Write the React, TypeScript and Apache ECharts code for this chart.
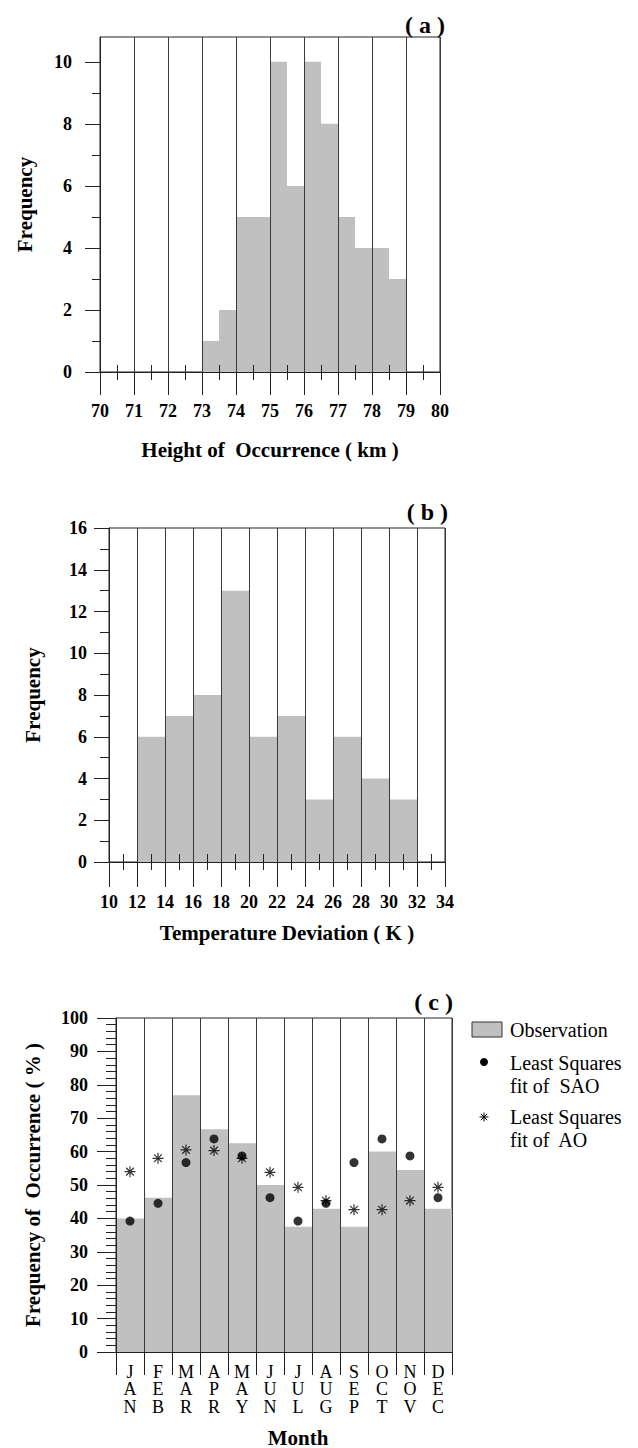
import React, { useEffect, useRef } from 'react';
import * as echarts from 'echarts';

// ---------- data ----------
const heightBinStart = [73.0, 73.5, 74.0, 74.5, 75.0, 75.5, 76.0, 76.5, 77.0, 77.5, 78.0, 78.5];
const heightCounts = [1, 2, 5, 5, 10, 6, 10, 8, 5, 4, 4, 3];
const heightBinWidth = 0.5;
const heightYLabels = [0, 2, 4, 6, 8, 10];
const heightYMinor = [1, 3, 5, 7, 9];
const heightHalfTicks = [70.5, 71.5, 72.5, 73.5, 74.5, 75.5, 76.5, 77.5, 78.5, 79.5];

const tempBinStart = [12, 14, 16, 18, 20, 22, 24, 26, 28, 30];
const tempCounts = [6, 7, 8, 13, 6, 7, 3, 6, 4, 3];
const tempBinWidth = 2;
const tempOddTicks = [11, 13, 15, 17, 19, 21, 23, 25, 27, 29, 31, 33];

const months = ['JAN', 'FEB', 'MAR', 'APR', 'MAY', 'JUN', 'JUL', 'AUG', 'SEP', 'OCT', 'NOV', 'DEC'];
const observation = [40.0, 46.2, 76.9, 66.7, 62.5, 50.0, 37.5, 42.9, 37.5, 60.0, 54.5, 42.9];
const saoFit = [39.2, 44.5, 56.7, 63.8, 58.7, 46.2, 39.2, 44.5, 56.7, 63.8, 58.7, 46.2];
const aoFit = [54.0, 58.0, 60.5, 60.3, 58.0, 53.8, 49.3, 45.3, 42.6, 42.6, 45.3, 49.3];

// ---------- styles ----------
const FONT = 'Liberation Serif';
const AXIS = '#222';
const GRIDLINE = '#3a3a3a';
const BAR = '#c0c0c0';
const lineStyle = { color: AXIS, width: 1 };
const tickLabel = { fontFamily: FONT, fontWeight: 'bold' as const, fontSize: 18, color: '#000' };
const nameStyle = { fontFamily: FONT, fontWeight: 'bold' as const, fontSize: 21, color: '#000' };
const ASTERISK = 'path://M5 0L5 10M0 5L10 5M1.5 1.5L8.5 8.5M1.5 8.5L8.5 1.5';

function histRender(params: any, api: any) {
  const x0 = api.value(0);
  const x1 = api.value(1);
  const y = api.value(2);
  const p0 = api.coord([x0, y]);
  const p1 = api.coord([x1, 0]);
  return {
    type: 'rect',
    shape: { x: p0[0], y: p0[1], width: p1[0] - p0[0], height: p1[1] - p0[1] },
    style: { fill: BAR },
  };
}

function gridBox(left: number, top: number, width: number, height: number) {
  return {
    left, top, width, height,
    show: true,
    borderColor: AXIS,
    borderWidth: 1,
    backgroundColor: 'transparent',
    containLabel: false,
    outerBoundsMode: 'none',
  };
}

function legendText(text: string, x: number, y: number) {
  return {
    type: 'text',
    x, y,
    style: { text, fontFamily: FONT, fontSize: 20, fill: '#000', verticalAlign: 'middle', align: 'left' },
  };
}

export default function App() {
  const ref = useRef<HTMLDivElement>(null);

  useEffect(() => {
    if (!ref.current) return;
    const chart = echarts.init(ref.current, undefined, { renderer: 'svg' });

    const option: any = {
      animation: false,
      backgroundColor: '#fff',
      title: [
        { text: '( a )', right: 193, top: 13, padding: 0, textStyle: { ...nameStyle, fontSize: 24, lineHeight: 24 } },
        { text: '( b )', right: 190, top: 500, padding: 0, textStyle: { ...nameStyle, fontSize: 24, lineHeight: 24 } },
        { text: '( c )', right: 185, top: 990, padding: 0, textStyle: { ...nameStyle, fontSize: 24, lineHeight: 24 } },
      ],
      grid: [
        gridBox(100, 37, 340, 335),
        gridBox(109, 528, 336, 334),
        gridBox(116, 1018, 336, 334),
      ],
      xAxis: [
        {
          gridIndex: 0, type: 'value', min: 70, max: 80, interval: 1, position: 'bottom', z: 3,
          axisLine: { show: true, lineStyle },
          axisTick: { show: true, length: 23, lineStyle },
          minorTick: { show: true, splitNumber: 2, length: 8, lineStyle },
          splitLine: { show: true, lineStyle: { color: GRIDLINE, width: 1 } },
          axisLabel: { ...tickLabel, margin: 30 },
          name: 'Height of  Occurrence ( km )', nameLocation: 'middle', nameGap: 67, nameTextStyle: nameStyle,
        },
        {
          gridIndex: 0, type: 'value', min: 70, max: 80, position: 'bottom', z: 3,
          axisLine: { show: false },
          axisTick: { show: true, inside: true, length: 7, lineStyle, customValues: heightHalfTicks },
          splitLine: { show: false },
          axisLabel: { show: false },
        },
        {
          gridIndex: 1, type: 'value', min: 10, max: 34, interval: 2, position: 'bottom', z: 3,
          axisLine: { show: true, lineStyle },
          axisTick: { show: true, length: 25, lineStyle },
          minorTick: { show: true, splitNumber: 2, length: 8, lineStyle },
          splitLine: { show: true, lineStyle: { color: GRIDLINE, width: 1 } },
          axisLabel: { ...tickLabel, margin: 31 },
          name: 'Temperature Deviation ( K )', nameLocation: 'middle', nameGap: 60,
          nameTextStyle: { ...nameStyle, padding: [0, 0, 0, 20] },
        },
        {
          gridIndex: 1, type: 'value', min: 10, max: 34, position: 'bottom', z: 3,
          axisLine: { show: false },
          axisTick: { show: true, inside: true, length: 8, lineStyle, customValues: tempOddTicks },
          splitLine: { show: false },
          axisLabel: { show: false },
        },
        {
          gridIndex: 2, type: 'category', data: months, boundaryGap: true, position: 'bottom', z: 3,
          axisLine: { show: true, lineStyle },
          axisTick: { show: true, length: 23, interval: 0, alignWithLabel: false, lineStyle },
          splitLine: { show: true, interval: 0, lineStyle: { color: GRIDLINE, width: 1 } },
          axisLabel: {
            interval: 0, margin: 11, fontFamily: FONT, fontSize: 18, lineHeight: 17.5, color: '#000',
            formatter: (v: string) => v.split('').join('\n'),
          },
          name: 'Month', nameLocation: 'middle', nameGap: 75,
          nameTextStyle: { ...nameStyle, padding: [0, 0, 0, 28] },
        },
      ],
      yAxis: [
        {
          gridIndex: 0, type: 'value', min: 0, max: 10.8, position: 'left', z: 3,
          axisLine: { show: true, lineStyle },
          axisTick: { show: true, length: 15, lineStyle, customValues: heightYLabels },
          axisLabel: { ...tickLabel, margin: 28, customValues: heightYLabels },
          splitLine: { show: false },
          name: 'Frequency', nameLocation: 'middle', nameGap: 65, nameTextStyle: nameStyle,
        },
        {
          gridIndex: 0, type: 'value', min: 0, max: 10.8, position: 'left', z: 3,
          axisLine: { show: false },
          axisTick: { show: true, length: 8, lineStyle, customValues: heightYMinor },
          axisLabel: { show: false },
          splitLine: { show: false },
        },
        {
          gridIndex: 1, type: 'value', min: 0, max: 16, interval: 2, position: 'left', z: 3,
          axisLine: { show: true, lineStyle },
          axisTick: { show: true, length: 15, lineStyle },
          minorTick: { show: true, splitNumber: 2, length: 9, lineStyle },
          axisLabel: { ...tickLabel, margin: 22 },
          splitLine: { show: false },
          name: 'Frequency', nameLocation: 'middle', nameGap: 66, nameTextStyle: nameStyle,
        },
        {
          gridIndex: 2, type: 'value', min: 0, max: 100, interval: 10, position: 'left', z: 3,
          axisLine: { show: true, lineStyle },
          axisTick: { show: true, length: 19, lineStyle },
          minorTick: { show: true, splitNumber: 5, length: 10, lineStyle },
          axisLabel: { ...tickLabel, margin: 28 },
          splitLine: { show: false },
          name: 'Frequency of  Occurrence ( % )', nameLocation: 'middle', nameGap: 73, nameTextStyle: nameStyle,
        },
      ],
      series: [
        {
          type: 'custom', name: 'Height histogram', xAxisIndex: 0, yAxisIndex: 0, z: 2,
          data: heightBinStart.map((s, i) => [s, s + heightBinWidth, heightCounts[i]]),
          encode: { x: [0, 1], y: 2 },
          renderItem: histRender,
        },
        {
          type: 'custom', name: 'Temperature histogram', xAxisIndex: 2, yAxisIndex: 2, z: 2,
          data: tempBinStart.map((s, i) => [s, s + tempBinWidth, tempCounts[i]]),
          encode: { x: [0, 1], y: 2 },
          renderItem: histRender,
        },
        {
          type: 'bar', name: 'Observation', xAxisIndex: 4, yAxisIndex: 3, z: 2,
          data: observation, barCategoryGap: '0%', itemStyle: { color: BAR },
        },
        {
          type: 'scatter', name: 'Least Squares fit of SAO', xAxisIndex: 4, yAxisIndex: 3, z: 5,
          data: saoFit, symbol: 'circle', symbolSize: 9, itemStyle: { color: '#000' },
        },
        {
          type: 'scatter', name: 'Least Squares fit of AO', xAxisIndex: 4, yAxisIndex: 3, z: 5,
          data: aoFit, symbol: ASTERISK, symbolSize: 11,
          itemStyle: { color: 'none', borderColor: '#000', borderWidth: 1.2 },
        },
      ],
      graphic: [
        {
          type: 'rect', shape: { x: 472, y: 1022, width: 30, height: 15 },
          style: { fill: BAR, stroke: '#333', lineWidth: 1 },
        },
        legendText('Observation', 510, 1030),
        { type: 'circle', shape: { cx: 484, cy: 1062, r: 4 }, style: { fill: '#000' } },
        legendText('Least Squares', 510, 1063),
        legendText('fit of  SAO', 510, 1086),
        {
          type: 'group', x: 484, y: 1117,
          children: [
            { type: 'line', shape: { x1: 0, y1: -4.5, x2: 0, y2: 4.5 }, style: { stroke: '#000', lineWidth: 1 } },
            { type: 'line', shape: { x1: -4.5, y1: 0, x2: 4.5, y2: 0 }, style: { stroke: '#000', lineWidth: 1 } },
            { type: 'line', shape: { x1: -3.2, y1: -3.2, x2: 3.2, y2: 3.2 }, style: { stroke: '#000', lineWidth: 1 } },
            { type: 'line', shape: { x1: -3.2, y1: 3.2, x2: 3.2, y2: -3.2 }, style: { stroke: '#000', lineWidth: 1 } },
          ],
        },
        legendText('Least Squares', 510, 1117),
        legendText('fit of  AO', 510, 1140),
      ],
    };

    chart.setOption(option);
    return () => chart.dispose();
  }, []);

  return (
    <div
      ref={ref}
      style={{ position: 'absolute', left: 0, top: 0, width: 638, height: 1448, background: '#fff' }}
    />
  );
}
